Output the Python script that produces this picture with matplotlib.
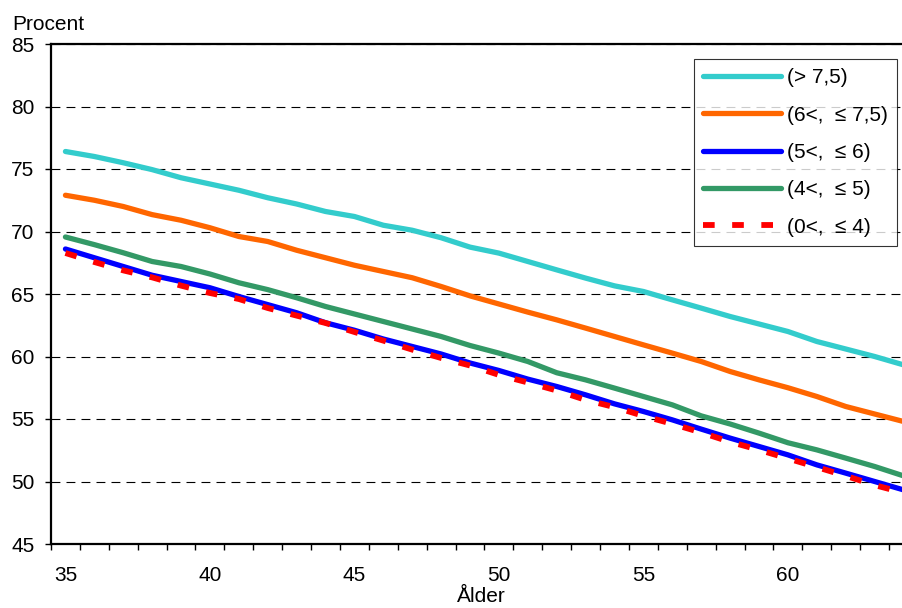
import matplotlib
matplotlib.use("Agg")
import matplotlib.pyplot as plt
from matplotlib.ticker import FixedLocator

plt.rcParams['font.family'] = ['Liberation Sans', 'DejaVu Sans']

ages = list(range(35, 65))

over_75 = [76.4, 76.0, 75.5, 74.95, 74.3, 73.8, 73.3, 72.7, 72.2, 71.6, 71.2, 70.5, 70.1, 69.5,
           68.75, 68.27, 67.6, 66.93, 66.27, 65.65, 65.2, 64.53, 63.87, 63.2, 62.6, 62.0, 61.2,
           60.6, 60.0, 59.33]
r6_75 = [72.9, 72.5, 72.0, 71.35, 70.9, 70.3, 69.6, 69.2, 68.5, 67.9, 67.3, 66.8, 66.3, 65.6,
         64.85, 64.2, 63.55, 62.93, 62.27, 61.6, 60.93, 60.27, 59.6, 58.8, 58.13, 57.5, 56.8,
         56.0, 55.4, 54.8]
r5_6 = [68.6, 67.9, 67.2, 66.5, 66.0, 65.5, 64.8, 64.15, 63.5, 62.7, 62.1, 61.4, 60.8, 60.2,
        59.48, 58.88, 58.19, 57.6, 56.93, 56.21, 55.6, 54.93, 54.19, 53.47, 52.8, 52.13, 51.33,
        50.67, 50.0, 49.33]
r4_5 = [69.56, 68.95, 68.3, 67.6, 67.2, 66.6, 65.9, 65.35, 64.7, 64.0, 63.4, 62.8, 62.2, 61.6,
        60.88, 60.27, 59.6, 58.7, 58.13, 57.47, 56.8, 56.13, 55.25, 54.6, 53.87, 53.1, 52.53,
        51.87, 51.2, 50.45]
r0_4 = [68.28, 67.56, 66.89, 66.33, 65.67, 65.08, 64.6, 63.88, 63.27, 62.68, 61.96, 61.27, 60.55,
        59.88, 59.28, 58.53, 57.92, 57.28, 56.53, 55.95, 55.25, 54.61, 53.92, 53.17, 52.53, 51.84,
        51.15, 50.45, 49.71, 49.1]

labels = ["(> 7,5)", "(6<,  \u2264 7,5)", "(5<,  \u2264 6)", "(4<,  \u2264 5)", "(0<,  \u2264 4)"]

W, H = 903, 608
fs = 15
fig = plt.figure(figsize=(W / 100, H / 100), dpi=100)
ax = fig.add_axes([51 / W, (H - 544) / H, (918 - 51) / W, 500 / H])

lw = 3.8
ax.plot(ages, over_75, color="#33CCCC", lw=lw, label=labels[0], solid_capstyle="round")
ax.plot(ages, r6_75, color="#FF6600", lw=lw, label=labels[1], solid_capstyle="round")
ax.plot(ages, r5_6, color="#0000FF", lw=lw, label=labels[2], solid_capstyle="round")
ax.plot(ages, r4_5, color="#339966", lw=lw, label=labels[3], solid_capstyle="round")
ax.plot(ages, r0_4, color="#FF0000", lw=lw + 0.4, label=labels[4], dashes=(2, 3),
        dash_capstyle="butt")

ax.set_xlim(34.5, 64.5)
ax.set_ylim(45, 85)

# x axis: tick marks between categories, labels every 5 years
ax.xaxis.set_major_locator(FixedLocator(range(35, 61, 5)))
ax.xaxis.set_minor_locator(FixedLocator([a - 0.5 for a in ages] + [64.5]))
ax.tick_params(axis="x", which="major", length=0, pad=16, labelsize=fs)
ax.tick_params(axis="x", which="minor", length=4, width=1, direction="out")

ax.set_yticks(range(45, 86, 5))
ax.tick_params(axis="y", length=4, width=1, direction="out", pad=8, labelsize=fs)

ax.grid(axis="y", color="black", lw=0.8, linestyle=(0, (8, 5.5)))
ax.set_axisbelow(True)

for s in ["left", "bottom", "top"]:
    ax.spines[s].set_linewidth(1.6)
ax.spines["right"].set_visible(False)

leg = ax.legend(loc="upper left", bbox_to_anchor=(694 / W, 1 - 59 / H),
                bbox_transform=fig.transFigure, fontsize=fs, frameon=True,
                fancybox=False, edgecolor="black", handlelength=3.75,
                handletextpad=0.25, labelspacing=0.88, borderpad=0.45,
                borderaxespad=0)
leg.get_frame().set_linewidth(0.8)

fig.text(12 / W, 1 - 30 / H, "Procent", fontsize=fs, va="baseline", ha="left")
fig.text(481 / W, 1 - 602 / H, "\u00c5lder", fontsize=fs, va="baseline", ha="center")

fig.savefig("out.png", dpi=100)
